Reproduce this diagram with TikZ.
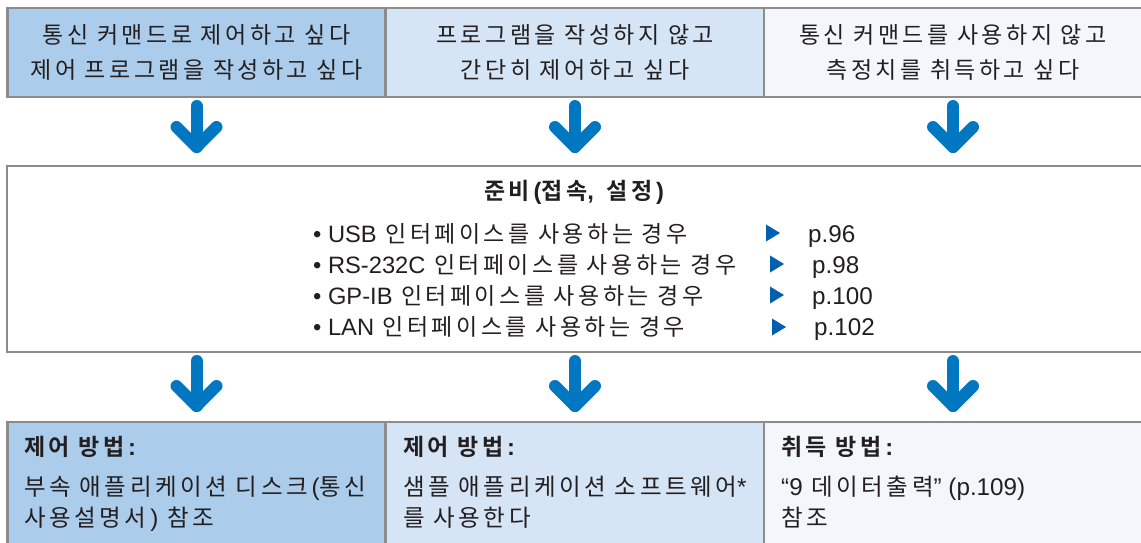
\documentclass[tikz,border=0pt]{standalone}
\usepackage{fontspec}
\setmainfont{Noto Sans CJK KR}[BoldFont={Noto Sans CJK KR Bold}, LetterSpace=15]
\newfontfamily\lat{Liberation Sans}[Scale=1.03]
\usetikzlibrary{calc}
\newcommand\en[1]{{\lat #1}}
\definecolor{fillA}{HTML}{ABCDEB}
\definecolor{fillB}{HTML}{D5E5F5}
\definecolor{fillC}{HTML}{F3F7FB}
\definecolor{edgegray}{HTML}{8C8C8C}
\definecolor{arrowblue}{HTML}{0077C0}
\definecolor{triblue}{HTML}{0060AF}
\definecolor{txt}{HTML}{231F20}
\tikzset{
  box/.style={draw=edgegray, line width=2.4pt, rectangle, inner sep=0pt, outer sep=0pt, text=txt},
  topbox/.style={box, minimum width=378pt, minimum height=89pt, align=center,
     font=\fontsize{23}{35}\selectfont},
  botbox/.style={box, minimum width=378pt, minimum height=140pt},
  arrowline/.style={draw=arrowblue, line width=12pt, line cap=round, line join=round},
  txtstyle/.style={text=txt, inner sep=0pt, anchor=base west},
  rowtext/.style={txtstyle, font=\fontsize{23}{30}\selectfont},
  pagetext/.style={txtstyle, font=\fontsize{23.5}{30}\selectfont\lat},
  heading/.style={txtstyle, font=\fontsize{23}{30}\selectfont\bfseries},
  body/.style={txtstyle, font=\fontsize{23.5}{31}\selectfont, align=left},
}
\newcommand\blarrow[2]{%
  \draw[arrowline] (#1) -- (#2);
  \draw[arrowline] ($(#2)+(-20,-20)$) -- (#2) -- ($(#2)+(20,-20)$);}
\newcommand\tri[1]{\fill[triblue] ($(#1)+(0,-8.5)$) -- ($(#1)+(14,0)$) -- ($(#1)+(0,8.5)$) -- cycle;}
\begin{document}
\begin{tikzpicture}[x=1pt,y=-1pt]
\useasboundingbox (0,0) rectangle (1141,542);
\clip (0,0) rectangle (1141,542);
\fill[white] (0,0) rectangle (1141,542);
% top boxes
\node[topbox, fill=fillA] (t1) at (196.5,52.5) {통신 커맨드로 제어하고 싶다\\제어 프로그램을 작성하고 싶다};
\node[topbox, fill=fillB] (t2) at (575,52.5) {프로그램을 작성하지 않고\\간단히 제어하고 싶다};
\node[topbox, fill=fillC, minimum width=390pt] (t3) at (959,52.5) {};
\node[text=txt, align=center, font=\fontsize{23}{35}\selectfont, inner sep=0pt] (t3t) at (953,52.5) {통신 커맨드를 사용하지 않고\\측정치를 취득하고 싶다};
% middle box
\node[box, fill=white, minimum width=1150pt, minimum height=186pt] (m) at (582,259) {};
\node[txtstyle, anchor=base, font=\fontsize{23}{30}\selectfont\bfseries] (title) at (574,199) {준비\,\en{(}접속\en{,}\, 설정\,\en{)}};
\node[rowtext] (r1) at (313,242) {\en{• USB} 인터페이스를 사용하는 경우};
\node[rowtext] (r2) at (313,273) {\en{• RS-232C} 인터페이스를 사용하는 경우};
\node[rowtext] (r3) at (313,304) {\en{• GP-IB} 인터페이스를 사용하는 경우};
\node[rowtext] (r4) at (313,335) {\en{• LAN} 인터페이스를 사용하는 경우};
\coordinate (p1) at (766,233);
\coordinate (p2) at (770,264);
\coordinate (p3) at (770,295);
\coordinate (p4) at (772,327);
\tri{p1}\tri{p2}\tri{p3}\tri{p4}
\node[pagetext] (g1) at (808,242) {p.96};
\node[pagetext] (g2) at (812,273) {p.98};
\node[pagetext] (g3) at (812,304) {p.100};
\node[pagetext] (g4) at (814,335) {p.102};
% bottom boxes
\node[botbox, fill=fillA] (b1) at (196.5,492) {};
\node[botbox, fill=fillB] (b2) at (575,492) {};
\node[botbox, fill=fillC, minimum width=390pt] (b3) at (959,492) {};
\node[heading] (h1) at (24,455) {제어 방법\,\en{:}};
\node[heading] (h2) at (403,455) {제어 방법\,\en{:}};
\node[heading] (h3) at (781,455) {취득 방법\,\en{:}};
\node[body] (d1) at (24,495) {부속 애플리케이션 디스크\,\en{(}통신};
\node[body] (d1b) at (24,526) {사용설명서\,\en{)} 참조};
\node[body] (d2) at (403,495) {샘플 애플리케이션 소프트웨어\en{*}};
\node[body] (d2b) at (403,526) {를 사용한다};
\node[body] (d3) at (781,495) {\en{“9} 데이터출력\en{” (p.109)}};
\node[body] (d3b) at (781,526) {참조};
% arrows
\blarrow{$(t1.south)+(0,9)$}{$(t1.south|-m.north)+(0,-19)$}
\blarrow{$(t2.south)+(0,9)$}{$(t2.south|-m.north)+(0,-19)$}
\blarrow{$(t3t.south|-t3.south)+(0,9)$}{$(t3t.south|-m.north)+(0,-19)$}
\blarrow{$(t1.south|-m.south)+(0,9)$}{$(t1.south|-b1.north)+(0,-16)$}
\blarrow{$(t2.south|-m.south)+(0,9)$}{$(t2.south|-b2.north)+(0,-16)$}
\blarrow{$(t3t.south|-m.south)+(0,9)$}{$(t3t.south|-b3.north)+(0,-16)$}
\end{tikzpicture}
\end{document}
